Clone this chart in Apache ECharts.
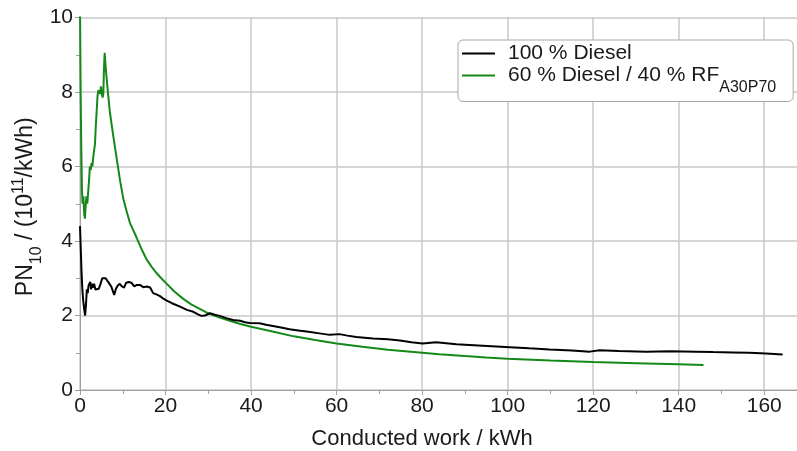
<!DOCTYPE html>
<html>
<head>
<meta charset="utf-8">
<script src="https://cdn.jsdelivr.net/npm/echarts@6/dist/echarts.min.js"></script>
<style>
  html, body { margin: 0; padding: 0; background: #fff; }
  #chart { width: 797px; height: 451px; }
</style>
</head>
<body>
<div id="chart"></div>
<script>
// Particle number emission over conducted work, two fuels.
const dieselWork = [0, 0.15, 0.35, 0.55, 0.75, 1.0, 1.2, 1.4, 1.6, 1.8, 2.0, 2.2, 2.4, 2.6, 2.8, 3.0, 3.3, 3.6, 4.0, 4.4, 4.8, 5.2, 5.6, 6.0, 6.4, 6.9, 7.3, 7.7, 8.0, 8.4, 8.8, 9.3, 9.8, 10.3, 10.8, 11.4, 12.0, 12.7, 13.3, 14.0, 14.8, 15.6, 16.4, 17.1, 18.0, 18.7, 19.5, 20.3, 21.5, 23.4, 25, 26.5, 27.6, 28.4, 29.2, 30.4, 31.5, 32.7, 34.2, 35.8, 37.4, 38.6, 39.7, 42, 43.5, 45.1, 47, 49, 51, 53, 56, 58.4, 60.7, 62.5, 64.6, 68.5, 72, 74.8, 77.5, 80.1, 83.3, 88, 94.2, 100.5, 105, 109.8, 115, 119.2, 121.5, 126, 132.4, 138, 144.1, 148, 152.6, 156.5, 160.4, 164.3];
const dieselPN = [4.4, 3.9, 3.2, 2.7, 2.4, 2.15, 2.0, 2.3, 2.7, 2.6, 2.8, 2.75, 2.9, 2.7, 2.85, 2.75, 2.85, 2.7, 2.75, 2.72, 2.85, 3.0, 2.98, 3.0, 2.95, 2.85, 2.78, 2.65, 2.55, 2.72, 2.8, 2.85, 2.78, 2.75, 2.88, 2.9, 2.88, 2.78, 2.82, 2.82, 2.76, 2.78, 2.75, 2.6, 2.56, 2.52, 2.45, 2.4, 2.33, 2.24, 2.15, 2.1, 2.03, 1.99, 2.0, 2.06, 2.02, 1.99, 1.93, 1.88, 1.86, 1.82, 1.8, 1.79, 1.75, 1.72, 1.68, 1.63, 1.6, 1.57, 1.52, 1.48, 1.5, 1.46, 1.42, 1.38, 1.36, 1.33, 1.28, 1.25, 1.28, 1.23, 1.19, 1.15, 1.12, 1.09, 1.06, 1.03, 1.07, 1.05, 1.03, 1.04, 1.03, 1.02, 1.01, 1.0, 0.98, 0.95];

const blendWork = [0, 0.15, 0.3, 0.45, 0.6, 0.8, 1.0, 1.15, 1.3, 1.5, 1.7, 1.9, 2.1, 2.3, 2.5, 2.7, 2.9, 3.1, 3.3, 3.5, 3.7, 3.9, 4.1, 4.3, 4.5, 4.7, 4.9, 5.1, 5.3, 5.45, 5.6, 5.76, 5.95, 6.2, 6.6, 7.0, 7.8, 8.6, 9.4, 10.1, 10.9, 11.7, 12.5, 13.2, 14.4, 15.6, 16.8, 17.9, 19.0, 20.3, 22, 24, 26, 28, 30, 32.5, 35, 37.5, 40, 45, 50, 55, 60, 66, 72, 78, 84, 90, 95, 100, 110, 120, 130, 140, 145.8];
const blendPN = [10.3, 8.0, 6.5, 5.4, 5.0, 5.2, 4.7, 4.6, 4.9, 5.2, 5.0, 5.3, 5.6, 6.0, 5.9, 6.1, 6.0, 6.25, 6.3, 6.6, 7.1, 7.5, 7.9, 8.05, 8.0, 7.95, 8.15, 7.95, 7.85, 7.95, 8.6, 9.05, 8.75, 8.4, 7.9, 7.45, 6.8, 6.2, 5.6, 5.15, 4.8, 4.48, 4.28, 4.1, 3.78, 3.5, 3.3, 3.14, 3.0, 2.85, 2.65, 2.46, 2.3, 2.18, 2.06, 1.95, 1.86, 1.77, 1.70, 1.57, 1.44, 1.34, 1.25, 1.16, 1.08, 1.02, 0.96, 0.91, 0.87, 0.84, 0.79, 0.75, 0.72, 0.69, 0.67];

const dieselName = '100 % Diesel';
const blendName = '60 % Diesel / 40 % RF A30P70';

const toPairs = (xs, ys) => xs.map((x, i) => [x, ys[i]]);

const textColor = '#1a1a1a';
const font = '"Liberation Sans", Arial, sans-serif';
const gridColor = '#c8c8c8';
const axisColor = '#a0a0a0';
const dieselColor = '#000000';
const blendColor = '#14891a';

const chart = echarts.init(document.getElementById('chart'), null, { renderer: 'canvas' });

chart.setOption({
  animation: false,
  backgroundColor: '#fff',
  textStyle: { fontFamily: font, color: textColor },
  grid: { left: 80, top: 17.5, width: 727, bottom: 61, outerBoundsMode: 'none', containLabel: false },
  xAxis: {
    type: 'value',
    min: 0,
    max: 170,
    interval: 20,
    name: 'Conducted work / kWh',
    nameLocation: 'middle',
    nameGap: 38,
    nameMoveOverlap: false,
    nameTextStyle: { fontSize: 22, color: textColor, fontFamily: font, padding: [0, 43, 0, 0] },
    axisLine: { show: true, lineStyle: { color: axisColor, width: 1 } },
    axisTick: { show: true, length: 5, lineStyle: { color: axisColor } },
    minorTick: { show: true, splitNumber: 2, length: 4, lineStyle: { color: axisColor } },
    axisLabel: { fontSize: 21, color: textColor, margin: 6, fontFamily: font, showMaxLabel: false },
    splitLine: { show: true, lineStyle: { color: gridColor, width: 1.5 } }
  },
  yAxis: {
    type: 'value',
    min: 0,
    max: 10,
    interval: 2,
    name: '{m|PN}{sub|10}{m| / (10}{sup|11}{m|/kWh)}',
    nameLocation: 'middle',
    nameRotate: 90,
    nameGap: 40,
    nameMoveOverlap: false,
    nameTextStyle: {
      fontSize: 23, color: textColor, fontFamily: font, padding: [0, 6, 0, 0],
      rich: {
        m: { fontSize: 23, lineHeight: 28, color: textColor, fontFamily: font },
        sub: { fontSize: 16, color: textColor, fontFamily: font, padding: [11, 0, -11, 0] },
        sup: { fontSize: 16, color: textColor, fontFamily: font, padding: [-7, 0, 7, 0] }
      }
    },
    axisLine: { show: true, lineStyle: { color: axisColor, width: 1 } },
    axisTick: { show: true, length: 5, lineStyle: { color: axisColor } },
    minorTick: { show: true, splitNumber: 2, length: 4, lineStyle: { color: axisColor } },
    axisLabel: { fontSize: 21, color: textColor, margin: 7, fontFamily: font },
    splitLine: { show: true, lineStyle: { color: gridColor, width: 1.5 } }
  },
  legend: {
    orient: 'vertical',
    left: 458,
    top: 40,
    padding: [3, 17, 6, 4],
    itemGap: 1,
    itemWidth: 33,
    itemHeight: 2,
    icon: 'rect',
    backgroundColor: '#fff',
    borderColor: '#a8a8a8',
    borderWidth: 1,
    borderRadius: 5,
    data: [dieselName, blendName],
    formatter: function (name) {
      if (name === blendName) {
        return '{m|60 % Diesel / 40 % RF}{s|A30P70}';
      }
      return '{m|' + name + '}';
    },
    textStyle: {
      fontSize: 21,
      color: textColor,
      fontFamily: font,
      rich: {
        m: { fontSize: 21, lineHeight: 24, color: textColor, fontFamily: font, padding: [0, 0, 0, 8] },
        s: { fontSize: 16, color: textColor, fontFamily: font, padding: [12, 0, -12, 0] }
      }
    }
  },
  series: [
    {
      name: dieselName,
      type: 'line',
      symbol: 'none',
      showSymbol: false,
      clip: true,
      lineStyle: { color: dieselColor, width: 2 },
      itemStyle: { color: dieselColor },
      data: toPairs(dieselWork, dieselPN),
      z: 3
    },
    {
      name: blendName,
      type: 'line',
      symbol: 'none',
      showSymbol: false,
      clip: true,
      lineStyle: { color: blendColor, width: 2 },
      itemStyle: { color: blendColor },
      data: toPairs(blendWork, blendPN),
      z: 2
    }
  ]
});
</script>
</body>
</html>
